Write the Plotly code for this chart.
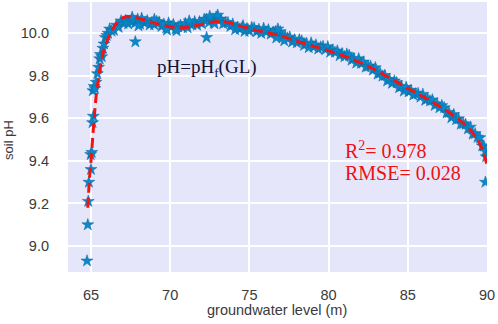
import plotly.graph_objects as go

# ---- data ----
# steep rise near 65 m
rise_gl = [64.75, 64.80, 64.83, 64.87, 65.00, 64.98, 65.05, 65.10, 65.15, 65.12, 65.20, 65.25, 65.32,
           65.40, 65.48, 65.55, 65.60, 65.68, 65.75, 65.82, 65.90, 66.00, 66.08, 66.18]
rise_ph = [8.93, 9.10, 9.21, 9.30, 9.36, 9.43, 9.44, 9.58, 9.61, 9.73, 9.75, 9.74, 9.77,
           9.81, 9.84, 9.88, 9.90, 9.89, 9.93, 9.95, 9.98, 9.99, 10.00, 10.02]

# dense band of observations
band_gl = [66.30, 66.45, 66.60, 66.75, 66.90, 67.05, 67.20, 67.35, 67.50, 67.65, 67.80, 67.95,
           68.10, 68.25, 68.40, 68.55, 68.70, 68.85, 69.00, 69.15, 69.30, 69.45, 69.60, 69.75,
           69.90, 70.05, 70.20, 70.35, 70.50, 70.65, 70.80, 70.95, 71.10, 71.25, 71.40, 71.55,
           71.70, 71.85, 72.00, 72.15, 72.30, 72.45, 72.60, 72.75, 72.90, 73.05, 73.20, 73.35,
           73.50, 73.65, 73.80, 73.95, 74.10, 74.25, 74.40, 74.55, 74.70, 74.85, 75.00, 75.15,
           75.30, 75.45, 75.60, 75.75, 75.90, 76.05, 76.20, 76.35, 76.50, 76.65, 76.80, 76.95,
           77.10, 77.25, 77.40, 77.55, 77.70, 77.85, 78.00, 78.15, 78.30, 78.45, 78.60, 78.75,
           78.90, 79.05, 79.20, 79.35, 79.50, 79.65, 79.80, 79.95, 80.10, 80.25, 80.40, 80.55,
           80.70, 80.85, 81.00, 81.15, 81.30, 81.45, 81.60, 81.75, 81.90, 82.05, 82.20, 82.35,
           82.50, 82.65, 82.80, 82.95, 83.10, 83.25, 83.40, 83.55, 83.70, 83.85, 84.00, 84.15,
           84.30, 84.45, 84.60, 84.75, 84.90, 85.05, 85.20, 85.35, 85.50, 85.65, 85.80, 85.95,
           86.10, 86.25, 86.40, 86.55, 86.70, 86.85, 87.00, 87.15, 87.30, 87.45, 87.60, 87.75,
           87.90, 88.05, 88.20, 88.35, 88.50, 88.65, 88.80, 88.95, 89.10, 89.25, 89.40, 89.55,
           89.70, 89.80, 89.90, 89.95]
band_ph = [10.010, 10.014, 10.038, 10.028, 10.058, 10.046, 10.060, 10.044, 10.055, 10.061, 10.049, 10.066,
           10.043, 10.055, 10.049, 10.059, 10.039, 10.051, 10.040, 10.055, 10.052, 10.032, 10.043, 10.025,
           10.048, 10.031, 10.041, 10.021, 10.030, 10.037, 10.027, 10.046, 10.026, 10.043, 10.041, 10.054,
           10.038, 10.054, 10.045, 10.065, 10.066, 10.051, 10.065, 10.050, 10.076, 10.060, 10.067, 10.045,
           10.050, 10.050, 10.032, 10.043, 10.017, 10.028, 10.020, 10.028, 10.009, 10.021, 10.010, 10.027,
           10.025, 10.007, 10.018, 10.000, 10.023, 10.006, 10.016, 9.996, 10.005, 10.008, 9.993, 10.007,
           9.980, 9.988, 9.977, 9.982, 9.959, 9.969, 9.955, 9.969, 9.964, 9.943, 9.952, 9.933,
           9.954, 9.935, 9.945, 9.926, 9.935, 9.938, 9.923, 9.937, 9.911, 9.921, 9.911, 9.917,
           9.895, 9.904, 9.890, 9.902, 9.896, 9.874, 9.881, 9.860, 9.880, 9.859, 9.865, 9.841,
           9.845, 9.845, 9.827, 9.838, 9.808, 9.813, 9.799, 9.802, 9.776, 9.783, 9.765, 9.776,
           9.768, 9.744, 9.750, 9.728, 9.746, 9.725, 9.732, 9.710, 9.715, 9.717, 9.700, 9.713,
           9.685, 9.693, 9.682, 9.687, 9.661, 9.668, 9.650, 9.660, 9.650, 9.625, 9.628, 9.603,
           9.618, 9.594, 9.598, 9.573, 9.575, 9.572, 9.551, 9.559, 9.526, 9.528, 9.511, 9.509,
           9.471, 9.470, 9.445, 9.420]

# extra spread in the plateau / bump
edge_gl = [67.6, 68.2, 69.0, 68.0, 69.8, 70.4, 72.5, 73.0, 72.8, 76.8, 77.2, 76.7, 71.2, 74.6]
edge_ph = [10.075, 10.070, 10.065, 10.035, 10.015, 10.012, 10.080, 10.085, 10.045, 10.020, 9.965, 9.978, 10.058, 10.035]

# isolated outliers
out_gl = [67.80, 72.30, 89.90]
out_ph = [9.96, 9.98, 9.30]

# fitted curve pH = pH_f(GL)
fit_gl = [64.80, 64.85, 64.92, 65.00, 65.10, 65.20, 65.32, 65.50, 65.68, 65.85, 66.05, 66.30, 66.60,
          66.90, 67.20, 67.50, 67.90, 68.40, 69.00, 69.60, 70.20, 70.80, 71.40, 72.00, 72.60, 73.20,
          73.80, 74.40, 75.00, 75.80, 76.60, 77.40, 78.20, 79.00, 79.80, 80.60, 81.40, 82.20, 83.00,
          83.80, 84.60, 85.40, 86.20, 87.00, 87.80, 88.50, 89.00, 89.40, 89.70, 89.90, 90.00]
fit_ph = [9.18, 9.25, 9.33, 9.40, 9.50, 9.60, 9.70, 9.80, 9.88, 9.93, 9.97, 10.01, 10.045,
          10.068, 10.078, 10.078, 10.072, 10.062, 10.048, 10.036, 10.028, 10.026, 10.032, 10.042, 10.052, 10.055,
          10.048, 10.035, 10.022, 10.008, 9.995, 9.978, 9.958, 9.940, 9.922, 9.903, 9.880, 9.855, 9.826,
          9.792, 9.758, 9.725, 9.692, 9.657, 9.618, 9.578, 9.540, 9.500, 9.455, 9.410, 9.380]

x_ticks = [65, 70, 75, 80, 85, 90]
y_ticks = [9.0, 9.2, 9.4, 9.6, 9.8, 10.0]

obs_gl = rise_gl + band_gl + edge_gl + out_gl
obs_ph = rise_ph + band_ph + edge_ph + out_ph

fig = go.Figure()
fig.add_trace(go.Scatter(
    x=obs_gl, y=obs_ph, mode="markers",
    marker=dict(symbol="star", size=9, color="#0a88cc", line=dict(color="#0a6c9e", width=0.5)),
    showlegend=False))
fig.add_trace(go.Scatter(
    x=fit_gl, y=fit_ph, mode="lines",
    line=dict(color="#f01414", width=3, dash="10px,5px", shape="spline"),
    showlegend=False))

serif = "Liberation Serif, Times New Roman, serif"
sans = "Liberation Sans, Arial, sans-serif"
fig.add_annotation(x=69.04, y=9.837, xref="x", yref="y", text="pH=pH<sub>f</sub>(GL)",
                   showarrow=False, xanchor="left", yanchor="middle",
                   font=dict(family=serif, size=19, color="#111133"))
fig.add_annotation(x=80.91, y=9.451, xref="x", yref="y", text="R<sup>2</sup>= 0.978",
                   showarrow=False, xanchor="left", yanchor="middle",
                   font=dict(family=serif, size=20, color="#ee1111"))
fig.add_annotation(x=80.91, y=9.343, xref="x", yref="y", text="RMSE= 0.028",
                   showarrow=False, xanchor="left", yanchor="middle",
                   font=dict(family=serif, size=20, color="#ee1111"))
# axis titles
fig.add_annotation(x=0.499, y=-0.141, xref="paper", yref="paper", text="groundwater level (m)",
                   showarrow=False, xanchor="center", yanchor="middle",
                   font=dict(family=sans, size=14.5, color="#3a3a3a"))
fig.add_annotation(x=-0.141, y=0.489, xref="paper", yref="paper", text="soil pH", textangle=-90,
                   showarrow=False, xanchor="center", yanchor="middle",
                   font=dict(family=sans, size=13, color="#3a3a3a"))

fig.update_layout(
    width=498, height=324,
    margin=dict(l=68, r=11, t=2, b=52, autoexpand=False),
    paper_bgcolor="white", plot_bgcolor="#E6E6FA",
    font=dict(family=sans, color="#3a3a3a"),
    xaxis=dict(range=[63.55, 90.0], tickvals=x_ticks, ticktext=[str(v) for v in x_ticks],
               showgrid=True, gridcolor="white", gridwidth=1.5, zeroline=False,
               showline=False, ticks="", ticklabelstandoff=12, automargin=False,
               tickfont=dict(size=14.5, color="#3a3a3a")),
    yaxis=dict(range=[8.878, 10.147], tickvals=y_ticks, ticktext=["%.1f" % v for v in y_ticks],
               showgrid=True, gridcolor="white", gridwidth=1.5, zeroline=False,
               showline=False, ticks="", ticklabelstandoff=18, automargin=False,
               tickfont=dict(size=14.5, color="#3a3a3a")),
)

fig.write_html("out.html", config={"displayModeBar": False},
               post_script="document.body.style.margin='0';document.body.style.overflow='hidden';")
